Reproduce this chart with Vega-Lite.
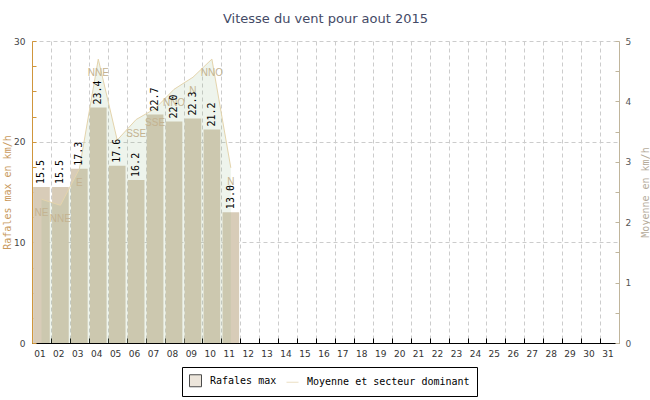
{
  "$schema": "https://vega.github.io/schema/vega-lite/v6.json",
  "width": 587,
  "height": 302,
  "autosize": {"type": "none"},
  "padding": {"left": 32, "top": 41, "right": 31, "bottom": 57},
  "background": "white",
  "title": {"text": "Vitesse du vent pour aout 2015", "font": "DejaVu Sans", "fontSize": 13, "fontWeight": "normal", "color": "#444a66", "offset": 11, "anchor": "middle"},
  "config": {"view": {"stroke": null}},
  "data": {"values": [
    {"jour": "01", "rafales": 15.5, "moyenne": 2.38, "dir": "NE"},
    {"jour": "02", "rafales": 15.5, "moyenne": 2.28, "dir": "NNE"},
    {"jour": "03", "rafales": 17.3, "moyenne": 2.88, "dir": "E"},
    {"jour": "04", "rafales": 23.4, "moyenne": 4.70, "dir": "NNE"},
    {"jour": "05", "rafales": 17.6, "moyenne": 3.36, "dir": ""},
    {"jour": "06", "rafales": 16.2, "moyenne": 3.70, "dir": "SSE"},
    {"jour": "07", "rafales": 22.7, "moyenne": 3.88, "dir": "SSE"},
    {"jour": "08", "rafales": 22.0, "moyenne": 4.20, "dir": "NNO"},
    {"jour": "09", "rafales": 22.3, "moyenne": 4.40, "dir": "N"},
    {"jour": "10", "rafales": 21.2, "moyenne": 4.70, "dir": "NNO"},
    {"jour": "11", "rafales": 13.0, "moyenne": 2.90, "dir": "N"}
  ]},
  "encoding": {
    "x": {
      "field": "jour", "type": "ordinal",
      "scale": {"domain": ["01","02","03","04","05","06","07","08","09","10","11","12","13","14","15","16","17","18","19","20","21","22","23","24","25","26","27","28","29","30","31"], "paddingInner": 0.12, "paddingOuter": 0.06},
      "axis": {"title": null, "bandPosition": 0, "tickOffset": -1.1, "labelOffset": -1, "labelAngle": 0, "labelFont": "DejaVu Sans", "labelFontSize": 9, "labelColor": "#333333", "labelPadding": 11, "tickSize": -5, "tickColor": "#000000", "domainColor": "#000000", "grid": true, "gridColor": "#cccccc", "gridDash": [4, 3], "zindex": 0}
    }
  },
  "layer": [
    {
      "encoding": {
        "y": {"field": "rafales", "type": "quantitative", "scale": {"domain": [0, 30], "nice": false},
          "axis": {"title": "Rafales max en km/h", "titleFont": "DejaVu Sans Mono", "titleFontSize": 10, "titleFontWeight": "normal", "titleColor": "#c99a5e", "titlePadding": 1,
            "values": [0, 2.5, 5, 7.5, 10, 12.5, 15, 17.5, 20, 22.5, 25, 27.5, 30],
            "labelExpr": "datum.value % 10 === 0 ? datum.label : ''",
            "labelFont": "DejaVu Sans", "labelFontSize": 9, "labelColor": "#444444", "labelPadding": 11,
            "domainColor": "#d0963c", "tickColor": "#d0963c", "tickSize": -4,
            "grid": true, "gridColor": "#cccccc", "gridDash": [4, 3],
            "gridOpacity": {"condition": {"test": "datum.value % 10 === 0", "value": 1}, "value": 0},
            "zindex": 0}}
      },
      "layer": [
        {"mark": {"type": "bar", "color": "#d8ccb8"}},
        {
          "data": {"values": [{"s": "Rafales max"}, {"s": "Moyenne et secteur dominant"}]},
          "transform": [{"filter": "false"}],
          "mark": {"type": "point", "filled": false, "strokeWidth": 1},
          "encoding": {
            "x": {"value": 0},
            "y": {"value": 0},
            "fill": {"field": "s", "type": "nominal", "scale": {"domain": ["Rafales max", "Moyenne et secteur dominant"], "range": ["#d8ccb8", "transparent"]},
              "legend": {"orient": "none", "legendX": 150, "legendY": 326, "direction": "horizontal", "title": null, "strokeColor": "#000000", "fillColor": "#ffffff", "padding": 7, "cornerRadius": 0, "labelFont": "DejaVu Sans Mono", "labelFontSize": 10, "labelColor": "#000000", "labelLimit": 400, "symbolSize": 144, "columnPadding": 7, "labelOffset": 8, "symbolStrokeWidth": 1, "symbolOpacity": 1}},
            "stroke": {"field": "s", "type": "nominal", "scale": {"domain": ["Rafales max", "Moyenne et secteur dominant"], "range": ["#000000", "#e4d4ac"]}},
            "shape": {"field": "s", "type": "nominal", "scale": {"domain": ["Rafales max", "Moyenne et secteur dominant"], "range": ["square", "stroke"]}}
          }
        }
      ]
    },
    {
      "encoding": {
        "y": {"field": "moyenne", "type": "quantitative", "scale": {"domain": [0, 5], "nice": false},
          "axis": {"orient": "right", "title": "Moyenne en km/h", "titleFont": "DejaVu Sans Mono", "titleFontSize": 10, "titleFontWeight": "normal", "titleColor": "#b5ab9a", "titlePadding": 20, "titleAngle": 270,
            "values": [0, 0.5, 1, 1.5, 2, 2.5, 3, 3.5, 4, 4.5, 5],
            "labelExpr": "datum.value % 1 === 0 ? format(datum.value, 'd') : ''",
            "labelFont": "DejaVu Sans", "labelFontSize": 9, "labelColor": "#555555", "labelPadding": 10,
            "domainColor": "#c0b59c", "tickColor": "#c0b59c", "tickSize": -4, "grid": false}}
      },
      "layer": [
        {"mark": {"type": "area", "color": "#8db680", "opacity": 0.15}},
        {"mark": {"type": "line", "color": "#e4d4ac", "strokeWidth": 1}},
        {"mark": {"type": "text", "dy": 14, "color": "#c4b391", "font": "Liberation Sans", "fontSize": 10}, "encoding": {"text": {"field": "dir"}}}
      ]
    },
    {
      "mark": {"type": "text", "angle": 270, "align": "left", "baseline": "middle", "dx": 3, "font": "DejaVu Sans Mono", "fontSize": 10, "color": "#000000"},
      "encoding": {
        "y": {"field": "rafales", "type": "quantitative", "scale": {"domain": [0, 30], "nice": false}, "axis": null},
        "text": {"field": "rafales", "type": "quantitative", "format": ".1f"}
      }
    }
  ],
  "resolve": {"scale": {"y": "independent"}}
}
